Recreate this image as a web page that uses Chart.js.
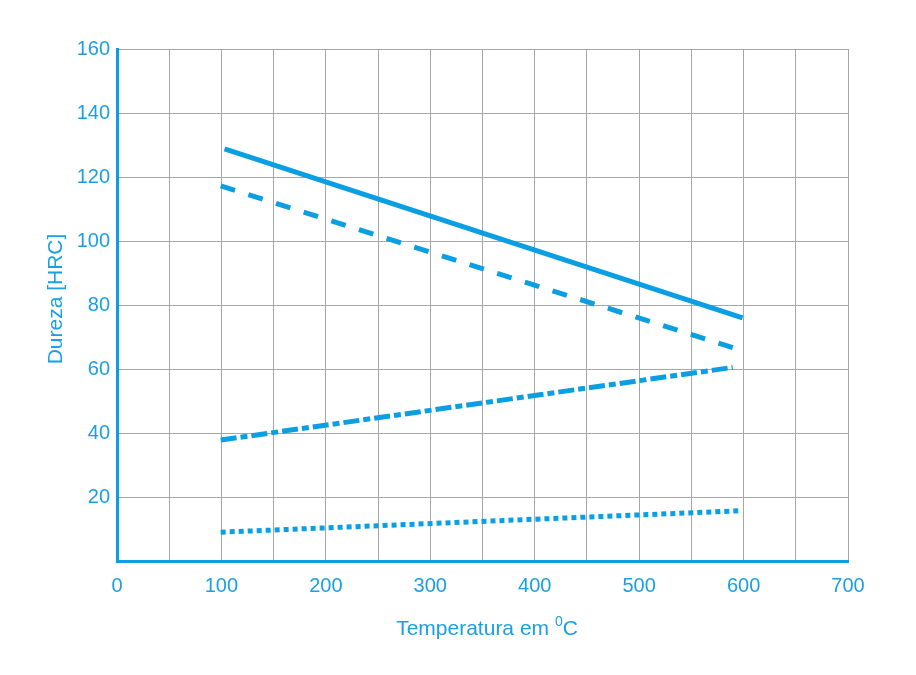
<!DOCTYPE html>
<html>
<head>
<meta charset="utf-8">
<script src="https://cdn.jsdelivr.net/npm/chart.js@4.4.1/dist/chart.umd.min.js"></script>
<style>
  html, body { margin: 0; padding: 0; background: #fff; }
  #wrap { width: 916px; height: 675px; }
</style>
</head>
<body>
<div id="wrap"><canvas id="chart" width="916" height="675"></canvas></div>
<script>
// values (temperature in °C, hardness in HRC)
const solidX = [103, 599];
const solidY = [128.8, 76];
const dashedX = [99.3, 599];
const dashedY = [117.2, 65.7];
const dashDotX = [99.3, 589.6];
const dashDotY = [37.8, 60.5];
const dottedX = [99.3, 596.6];
const dottedY = [9, 15.7];

const xTicks = [0, 100, 200, 300, 400, 500, 600, 700];
const yTicks = [20, 40, 60, 80, 100, 120, 140, 160];

const blue = "#0a9ee2";
const textBlue = "#1a9fe4";
const gridGray = "#a3a7ab";
const font = "'Liberation Sans', Arial, sans-serif";

function pts(xs, ys) {
  return xs.map((x, i) => ({ x: x, y: ys[i] }));
}

function series(xs, ys, dash) {
  return {
    data: pts(xs, ys),
    borderColor: blue,
    borderWidth: 5,
    borderDash: dash,
    borderCapStyle: "butt",
    pointRadius: 0,
    fill: false,
    tension: 0,
  };
}

const titles = {
  id: "titles",
  afterDraw(chart) {
    const ctx = chart.ctx;
    ctx.save();
    ctx.fillStyle = textBlue;
    ctx.textBaseline = "middle";

    // y title
    ctx.save();
    ctx.translate(56, 299);
    ctx.rotate(-Math.PI / 2);
    ctx.font = "21px " + font;
    ctx.textAlign = "center";
    ctx.fillText("Dureza [HRC]", 0, 0);
    ctx.restore();

    // x title with superscript 0
    const main = "Temperatura em ";
    ctx.font = "21px " + font;
    const w1 = ctx.measureText(main).width;
    ctx.font = "14px " + font;
    const w2 = ctx.measureText("0").width;
    ctx.font = "21px " + font;
    const w3 = ctx.measureText("C").width;
    let x = 487 - (w1 + w2 + w3) / 2;
    const y = 629;
    ctx.textAlign = "left";
    ctx.fillText(main, x, y);
    x += w1;
    ctx.font = "14px " + font;
    ctx.fillText("0", x, y - 7);
    x += w2;
    ctx.font = "21px " + font;
    ctx.fillText("C", x, y);
    ctx.restore();
  },
};

new Chart(document.getElementById("chart"), {
  type: "line",
  data: {
    datasets: [
      series(solidX, solidY, []),
      series(dashedX, dashedY, [15, 14]),
      series(dashDotX, dashDotY, [16, 4, 7, 4]),
      series(dottedX, dottedY, [5, 4]),
    ],
  },
  options: {
    responsive: false,
    animation: false,
    layout: { padding: { left: 0, right: 68, top: 49, bottom: 0 } },
    plugins: {
      legend: { display: false },
      tooltip: { enabled: false },
    },
    scales: {
      x: {
        type: "linear",
        min: 0,
        max: 700,
        afterFit: (scale) => { scale.height = 675 - 561; },
        afterBuildTicks: (scale) => {
          const t = [];
          for (let v = 0; v <= 700; v += 50) t.push({ value: v });
          scale.ticks = t;
        },
        grid: { color: gridGray, lineWidth: 1, drawTicks: false },
        border: { color: blue, width: 3 },
        ticks: {
          color: textBlue,
          font: { family: font, size: 20 },
          padding: 13,
          maxRotation: 0,
          autoSkip: false,
          callback: (v) => (xTicks.includes(v) ? v : ""),
        },
      },
      y: {
        type: "linear",
        min: 0,
        max: 160,
        afterFit: (scale) => { scale.width = 117; },
        ticks: {
          stepSize: 20,
          color: textBlue,
          font: { family: font, size: 20 },
          padding: 7,
          callback: (v) => (yTicks.includes(v) ? v : ""),
        },
        grid: { color: gridGray, lineWidth: 1, drawTicks: false },
        border: { color: blue, width: 3 },
      },
    },
  },
  plugins: [titles],
});
</script>
</body>
</html>
